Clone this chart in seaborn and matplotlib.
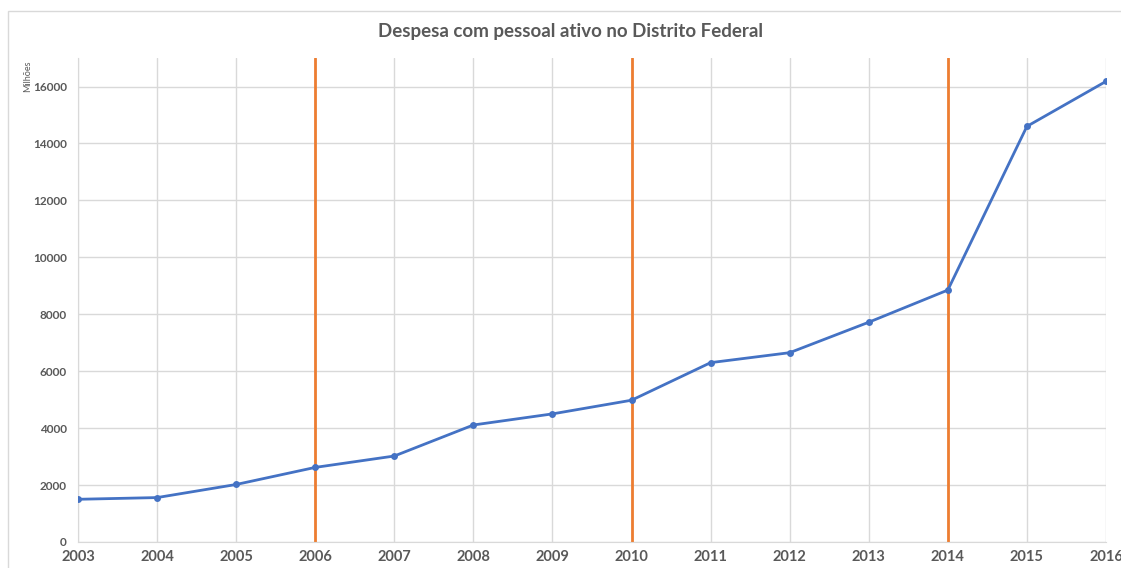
import matplotlib.pyplot as plt
import pandas as pd
import seaborn as sns
from matplotlib.patches import Rectangle

years = [2003, 2004, 2005, 2006, 2007, 2008, 2009, 2010, 2011, 2012, 2013, 2014, 2015, 2016]
despesa = [1500, 1560, 2020, 2620, 3020, 4110, 4500, 4980, 6300, 6650, 7720, 8850, 14600, 16180]
election_years = [2006, 2010, 2014]
y_ticks = [0, 2000, 4000, 6000, 8000, 10000, 12000, 14000, 16000]

TEXT = "#595959"
GRID = "#D9D9D9"
BLUE = "#4472C4"
ORANGE = "#ED7D31"


def main() -> None:
    sns.set_style("whitegrid")
    plt.rcParams["font.family"] = ["Lato", "DejaVu Sans"]

    df = pd.DataFrame({"ano": years, "despesa": despesa})

    fig = plt.figure(figsize=(11.21, 5.68), dpi=100)
    ax = fig.add_axes([0.0696, 0.0458, 0.917, 0.852])

    # moldura clara do grafico
    fig.patches.append(
        Rectangle((8 / 1121, -0.1), 1.2, 1 - 11 / 568 + 0.1, transform=fig.transFigure,
                  fill=False, edgecolor=GRID, linewidth=1.0)
    )

    for yr in election_years:
        ax.axvline(yr, color=ORANGE, linewidth=2, zorder=2)

    sns.lineplot(data=df, x="ano", y="despesa", ax=ax, color=BLUE, linewidth=2,
                 marker="o", markersize=5, markeredgewidth=0, zorder=3)

    ax.set_xlim(2003, 2016)
    ax.set_ylim(0, 17000)
    ax.set_xticks(years)
    ax.set_yticks(y_ticks)
    ax.set_xticklabels([str(y) for y in years], fontsize=10.5, fontweight="bold", color=TEXT)
    ax.set_yticklabels([str(v) for v in y_ticks], fontsize=8.5, fontweight="bold", color=TEXT)
    ax.tick_params(axis="both", length=0, pad=8)
    ax.tick_params(axis="x", pad=6)
    ax.grid(True, color=GRID, linewidth=1)
    ax.set_xlabel("")
    ax.set_ylabel("")

    for side in ["top", "right"]:
        ax.spines[side].set_visible(False)
    ax.spines["left"].set_color(GRID)
    ax.spines["bottom"].set_color(GRID)

    fig.text(28 / 1121, 1 - 76 / 568, "Milhões", rotation=90, fontsize=6.5, color=TEXT,
             ha="center", va="center")
    fig.text(570 / 1121, 1 - 32 / 568, "Despesa com pessoal ativo no Distrito Federal",
             fontsize=13.5, fontweight="bold", color=TEXT, ha="center", va="center")

    fig.savefig("out.png", dpi=100)


if __name__ == "__main__":
    main()
